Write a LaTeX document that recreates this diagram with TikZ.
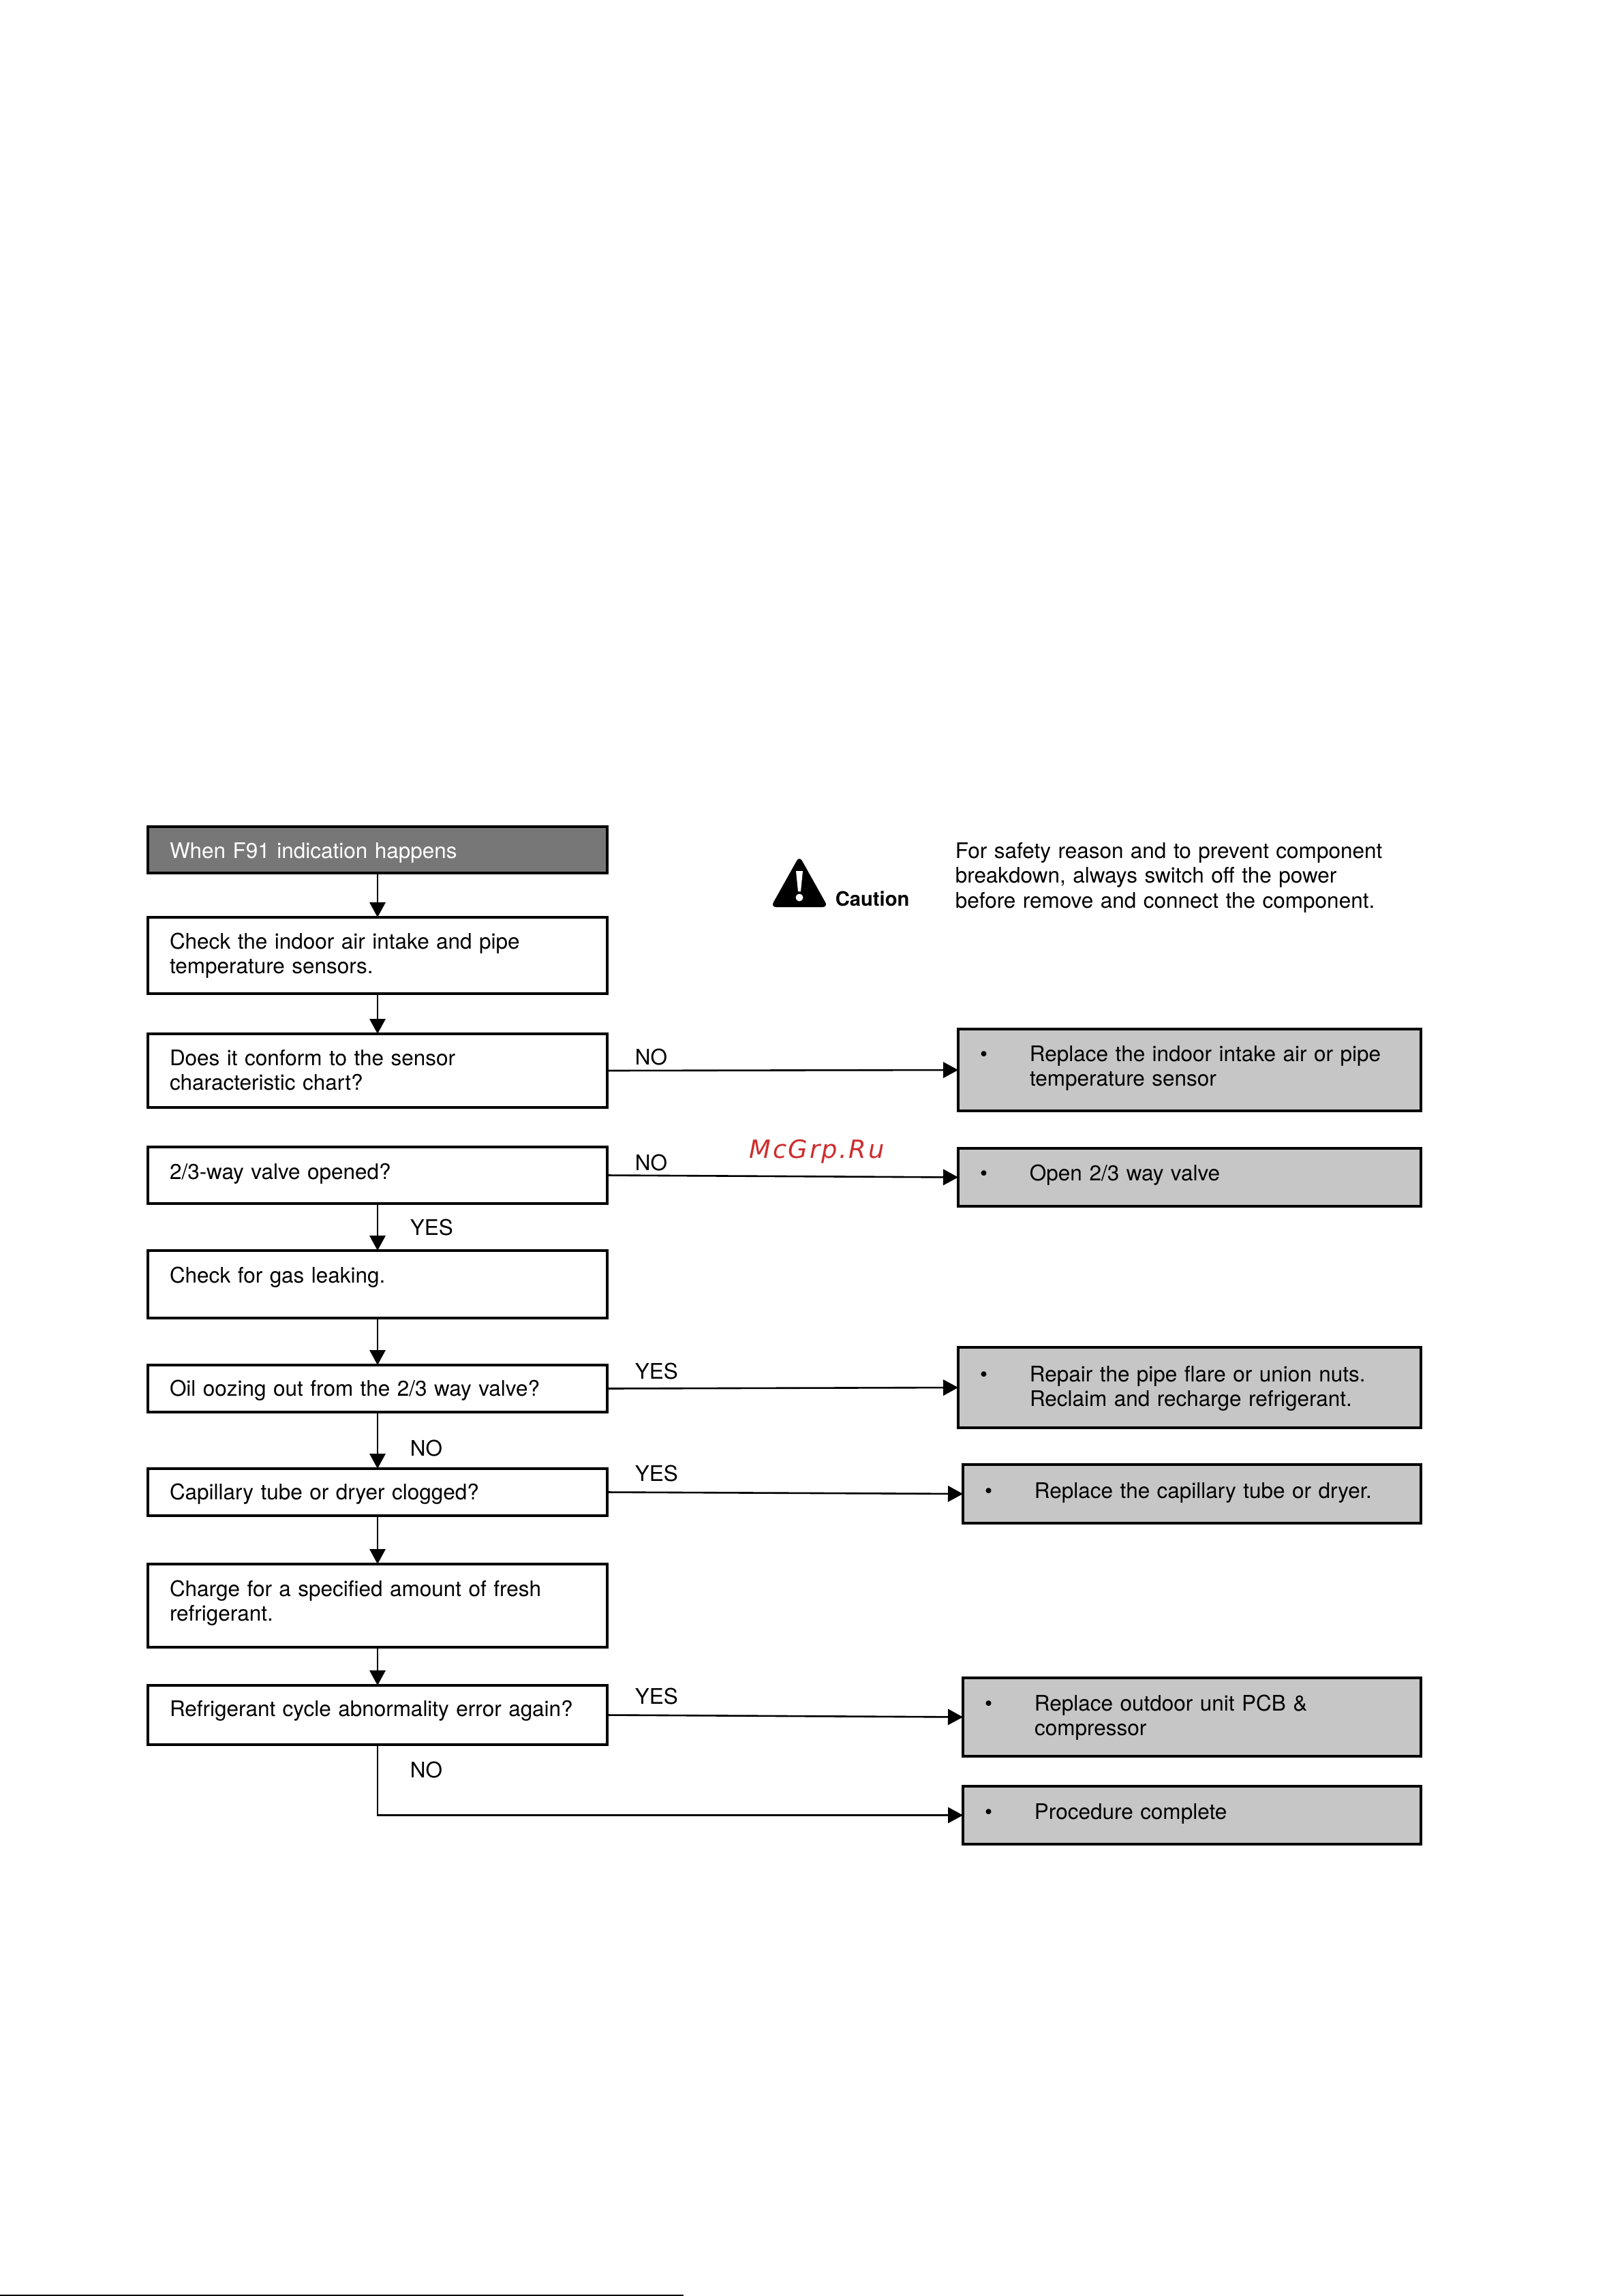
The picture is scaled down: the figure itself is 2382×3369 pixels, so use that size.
\documentclass[tikz,border=0pt]{standalone}
\usepackage{fontspec}
\setmainfont{TeX Gyre Heros}
\newfontfamily\markfont[LetterSpace=7]{DejaVu Sans Oblique}
\usetikzlibrary{arrows.meta}
\definecolor{startgray}{RGB}{119,119,119}
\definecolor{fixgray}{RGB}{198,198,198}
\definecolor{markred}{RGB}{205,45,45}
\def\fixitem{\makebox[18.25pt][l]{\textbullet}}
\def\fixgap{\hspace*{18.25pt}}
\tikzset{
	boxsize/.style 2 args={text height=#1/4*1pt, text depth=(#2-#1)/4*1pt},
	flowbox/.style={draw=black, line width=0.8pt, anchor=north west, inner ysep=0pt, inner xsep=8pt, outer sep=0pt, align=left, text width=152.5pt},
	fixbox/.style={flowbox, fill=fixgray, text width=153.75pt},
	fixboxb/.style={flowbox, fill=fixgray, text width=152pt},
	answer/.style={anchor=base west, inner sep=0pt},
	flow/.style={line width=0.65pt, -{Triangle[length=5.5pt,width=5.8pt]}}
}

\begin{document}
\begin{tikzpicture}[x=0.25pt, y=-0.25pt, font=\fontsize{7.87}{9.125}\selectfont]
		\useasboundingbox (0,0) rectangle (2382,3369);
		%%%%% LEFT COLUMN %%%%%
		\node[flowbox, fill=startgray, text=white, boxsize={46}{68}] (start) at (217,1213) {When F91 indication happens};
		\node[flowbox, boxsize={46}{112}] (sensor) at (217,1346) {Check the indoor air intake and pipe\\temperature sensors.};
		\node[flowbox, boxsize={46}{108}] (conform) at (217,1517) {Does it conform to the sensor\\characteristic chart?};
		\node[flowbox, boxsize={47}{83}] (valve) at (217,1683) {2/3-way valve opened?};
		\node[flowbox, boxsize={47}{99}] (gas) at (217,1835) {Check for gas leaking.};
		\node[flowbox, boxsize={45}{69}] (oil) at (217,2003) {Oil oozing out from the 2/3 way valve?};
		\node[flowbox, boxsize={45}{69}] (capillary) at (217,2155) {Capillary tube or dryer clogged?};
		\node[flowbox, boxsize={47}{122}] (charge) at (217,2295) {Charge for a specified amount of fresh\\refrigerant.};
		\node[flowbox, boxsize={45}{87}] (cycle) at (217,2473) {Refrigerant cycle abnormality error again?};
		
		%%%%% RIGHT COLUMN %%%%%
		\node[fixbox, boxsize={47}{120}] (fixsensor) at (1406,1510) {\fixitem Replace the indoor intake air or pipe\\\fixgap temperature sensor};
		\node[fixbox, boxsize={47}{85}] (openvalve) at (1406,1685) {\fixitem Open 2/3 way valve};
		\node[fixbox, boxsize={50}{118}] (repair) at (1406,1977) {\fixitem Repair the pipe flare or union nuts.\\\fixgap Reclaim and recharge refrigerant.};
		\node[fixboxb, boxsize={49}{86}] (fixtube) at (1413,2149) {\fixitem Replace the capillary tube or dryer.};
		\node[fixboxb, boxsize={48}{115}] (fixpcb) at (1413,2462) {\fixitem Replace outdoor unit PCB \&\\\fixgap compressor};
		\node[fixboxb, boxsize={48}{85}] (finish) at (1413,2621) {\fixitem Procedure complete};
		
		%%%%% CONNECTORS %%%%%
		\draw[flow] (start.south) -- (sensor.north);
		\draw[flow] (sensor.south) -- (conform.north);
		\draw[flow] (valve.south) -- (gas.north);
		\draw[flow] (gas.south) -- (oil.north);
		\draw[flow] (oil.south) -- (capillary.north);
		\draw[flow] (capillary.south) -- (charge.north);
		\draw[flow] (charge.south) -- (cycle.north);
		\draw[flow] (conform.east) -- (fixsensor.west);
		\draw[flow] (valve.east) -- (openvalve.west);
		\draw[flow] (oil.east) -- (repair.west);
		\draw[flow] (capillary.east) -- (fixtube.west);
		\draw[flow] (cycle.east) -- (fixpcb.west);
		\draw[flow] (cycle.south) |- (finish.west);
		
		%%%%% ANSWERS %%%%%
		\node[answer] (no1) at (931,1562) {NO};
		\node[answer] (no2) at (931,1717) {NO};
		\node[answer] (yes1) at (601,1812) {YES};
		\node[answer] (yes2) at (931,2023) {YES};
		\node[answer] (no3) at (601,2136) {NO};
		\node[answer] (yes3) at (931,2173) {YES};
		\node[answer] (yes4) at (931,2500) {YES};
		\node[answer] (no4) at (601,2608) {NO};
		
		%%%%% CAUTION %%%%%
		\fill[black, rounded corners=2pt] (1173,1256) -- (1215,1331) -- (1131,1331) -- cycle;
		\fill[white] (1168,1278) -- (1178,1278) -- (1175,1308) -- (1171,1308) -- cycle;
		\fill[white] (1173,1317) circle (5.5);
		\node[answer, font=\fontsize{7.3}{9}\selectfont\bfseries] (cautionlabel) at (1225,1329) {Caution};
		\node[answer, align=left, text width=170pt] (cautionnote) at (1401,1259) {For safety reason and to prevent component\\breakdown, always switch off the power\\before remove and connect the component.};
		
		\node[answer, text=markred, font=\fontsize{9.2}{11}\markfont] (sitemark) at (1099,1699) {McGrp.Ru};
		
		\coordinate (ruleleft) at (0,3368);
		\coordinate (ruleright) at (1003,3368);
		\draw[line width=0.5pt] (ruleleft) -- (ruleright);
		%%%%% END %%%%%
	\end{tikzpicture}
\end{document}
